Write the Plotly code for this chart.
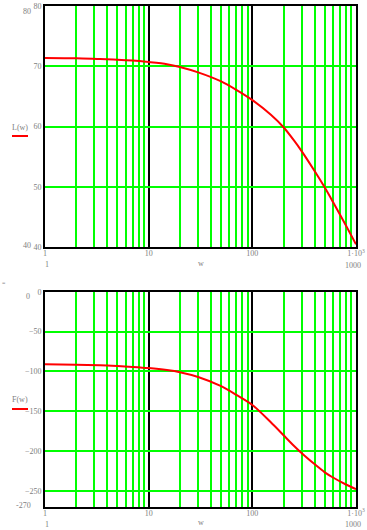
import plotly.graph_objects as go

# ---- data ----
w = [1, 2, 3.4, 5, 7, 10, 15, 20, 30, 50, 70, 100, 150, 200, 250, 300, 400, 500, 600, 800, 1000]
L = [71.4, 71.35, 71.2, 71.1, 70.95, 70.7, 70.35, 69.9, 69.0, 67.5, 66.1, 64.4, 62.0, 59.9, 57.8, 55.9, 52.6, 49.9, 47.5, 43.6, 40.5]
F = [-91, -91.5, -92.2, -93.2, -94.3, -95.8, -98.3, -101, -107, -118.5, -129.3, -142, -163.5, -180, -192.8, -202.6, -216.5, -226.5, -233, -241.8, -247.6]

x_ticks = [1, 10, 100, 1000]
x_ticktext = ["1", "10", "100", "1·10<sup>3</sup>"]
L_ticks = [40, 50, 60, 70, 80]
F_ticks = [0, -50, -100, -150, -200, -250]

W, H = 367, 530
GREEN = "#00ff00"
GRAY = "#808080"
FONT = "Liberation Serif"


def px(x, y):
    return x / W, 1 - y / H


fig = go.Figure()
fig.add_trace(go.Scatter(x=w, y=L, mode="lines",
                         line=dict(color="#ff0000", width=2, shape="spline", smoothing=0.8),
                         xaxis="x", yaxis="y", showlegend=False))
fig.add_trace(go.Scatter(x=w, y=F, mode="lines",
                         line=dict(color="#ff0000", width=2, shape="spline", smoothing=0.8),
                         xaxis="x2", yaxis="y2", showlegend=False))

minor_vals = [m * d for d in (1, 10, 100) for m in range(2, 10)]

xcommon = dict(type="log", range=[0, 3], tickvals=x_ticks, ticktext=x_ticktext,
               showgrid=True, gridcolor="black", gridwidth=1.5,
               minor=dict(tickvals=minor_vals, showgrid=True, gridcolor=GREEN, gridwidth=1.5, ticks=""),
               showline=True, linecolor="black", linewidth=2, mirror=True,
               ticks="", zeroline=False, automargin=False, ticklabelstandoff=-3,
               tickfont=dict(family=FONT, size=8, color=GRAY))
ycommon = dict(showgrid=True, gridcolor=GREEN, gridwidth=1.5,
               showline=True, linecolor="black", linewidth=2, mirror=True,
               ticks="", zeroline=False, automargin=False,
               tickfont=dict(family=FONT, size=8, color=GRAY))

x0, x1 = 45 / W, 356 / W
fig.update_layout(
    width=W, height=H, autosize=False,
    margin=dict(l=0, r=0, t=0, b=0, pad=0),
    paper_bgcolor="white", plot_bgcolor="white",
    xaxis=dict(xcommon, domain=[x0, x1], anchor="y"),
    yaxis=dict(ycommon, domain=[1 - 247.3 / H, 1 - 6 / H], range=[40, 80],
               tickvals=L_ticks, anchor="x"),
    xaxis2=dict(xcommon, domain=[x0, x1], anchor="y2"),
    yaxis2=dict(ycommon, domain=[1 - 507 / H, 1 - 291.7 / H], range=[-270, 0],
                tickvals=F_ticks, anchor="x2"),
)

ann = []


def text(x, y, s, xanchor="center", size=8, color=GRAY):
    ax, ay = px(x, y)
    ann.append(dict(x=ax, y=ay, xref="paper", yref="paper", text=s, showarrow=False,
                    xanchor=xanchor, yanchor="middle",
                    font=dict(family=FONT, size=size, color=color)))


# limit labels, top plot
text(27, 12, "80")
text(27, 245.5, "40")
text(46.5, 264, "1")
text(352.5, 265, "1000")
text(201, 263.5, "w")
text(20, 127, "L(w)")
# limit labels, bottom plot
text(28, 296.7, "0")
text(24, 505.3, "-270")
text(46.5, 524, "1")
text(352.5, 524.5, "1000")
text(201, 522, "w")
text(20, 399.5, "F(w)")
text(4, 282.5, "=", size=6)
fig.update_layout(annotations=ann)

# legend line samples under the axis labels
for yy in (136, 409):
    fig.add_shape(type="line", xref="paper", yref="paper",
                  x0=12 / W, x1=28 / W, y0=1 - yy / H, y1=1 - yy / H,
                  line=dict(color="#ff0000", width=2))

fig.write_html("out.html", config={"displayModeBar": False},
               post_script="document.body.style.margin='0';document.body.style.overflow='hidden';")
